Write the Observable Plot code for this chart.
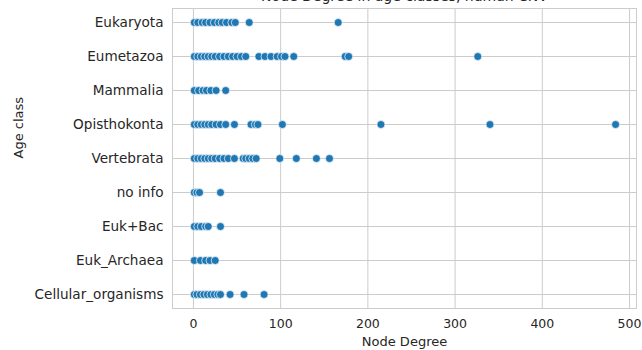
<!DOCTYPE html>
<html>
<head>
<meta charset="utf-8">
<script src="https://cdn.jsdelivr.net/npm/d3@7"></script>
<script src="https://cdn.jsdelivr.net/npm/@observablehq/plot@0.6"></script>
<style>
  html, body { margin: 0; padding: 0; background: #fff; }
  #chart svg { display: block; }
</style>
</head>
<body>
<div id="chart"></div>
<script>
const title = "Node Degree in age classes, human CNV";
const xLabel = "Node Degree";
const yLabel = "Age class";
const categories = ["Eukaryota", "Eumetazoa", "Mammalia", "Opisthokonta", "Vertebrata", "no info", "Euk+Bac", "Euk_Archaea", "Cellular_organisms"];
const xTicks = [0, 100, 200, 300, 400, 500];

const eukaryota = [1, 5, 10, 14, 19, 24, 29, 33, 38, 44, 48, 64, 166];
const eumetazoa = [1, 5, 9, 13, 17, 21, 25, 30, 35, 40, 45, 50, 55, 60, 75, 82, 89, 96, 101, 105, 115, 174, 178, 326];
const mammalia = [1, 6, 11, 15, 20, 26, 37];
const opisthokonta = [1, 5, 9, 13, 17, 21, 26, 31, 37, 47, 66, 71, 74, 102, 215, 340, 484];
const vertebrata = [1, 5, 9, 13, 17, 21, 25, 30, 35, 40, 47, 57, 60, 64, 68, 72, 99, 118, 141, 156];
const noInfo = [1, 4, 7, 31];
const eukBac = [1, 5, 9, 14, 17, 31];
const eukArchaea = [1, 8, 14, 19, 25];
const cellularOrganisms = [1, 4, 8, 12, 16, 20, 24, 28, 31, 42, 58, 81];

const series = [eukaryota, eumetazoa, mammalia, opisthokonta, vertebrata, noInfo, eukBac, eukArchaea, cellularOrganisms];
const data = series.flatMap((vals, i) => vals.map(v => ({cls: categories[i], degree: v})));

const font = "DejaVu Sans";
const textColor = "#262626";
const gridColor = "#cccccc";

const chart = Plot.plot({
  width: 642,
  height: 350,
  marginLeft: 172,
  marginRight: 6,
  marginTop: 8,
  marginBottom: 42,
  style: {fontFamily: font, color: textColor, background: "#fff", overflow: "visible"},
  x: {domain: [-24, 508]},
  y: {type: "point", domain: categories, padding: 0.4},
  marks: [
    Plot.gridX(xTicks, {stroke: gridColor, strokeOpacity: 1, strokeWidth: 1}),
    Plot.gridY(categories, {stroke: gridColor, strokeOpacity: 1, strokeWidth: 1}),
    Plot.frame({stroke: gridColor, strokeWidth: 1}),
    Plot.axisX({ticks: xTicks, tickSize: 0, tickPadding: 11, label: null, fontSize: 12.5, fill: textColor}),
    Plot.axisY({tickSize: 0, tickPadding: 9, label: null, fontSize: 13.6, fill: textColor}),
    Plot.dot(data, {x: "degree", y: "cls", r: 4, fill: "#1f77b4", stroke: "white", strokeWidth: 0.7}),
    Plot.text([xLabel], {frameAnchor: "bottom", dy: 37, fontSize: 13, fill: textColor}),
    Plot.text([yLabel], {frameAnchor: "left", dx: -154, rotate: -90, fontSize: 13, fill: textColor}),
    Plot.text([title], {frameAnchor: "top", dy: -8, lineAnchor: "bottom", fontSize: 14, fill: textColor})
  ]
});
document.getElementById("chart").appendChild(chart);
</script>
</body>
</html>
